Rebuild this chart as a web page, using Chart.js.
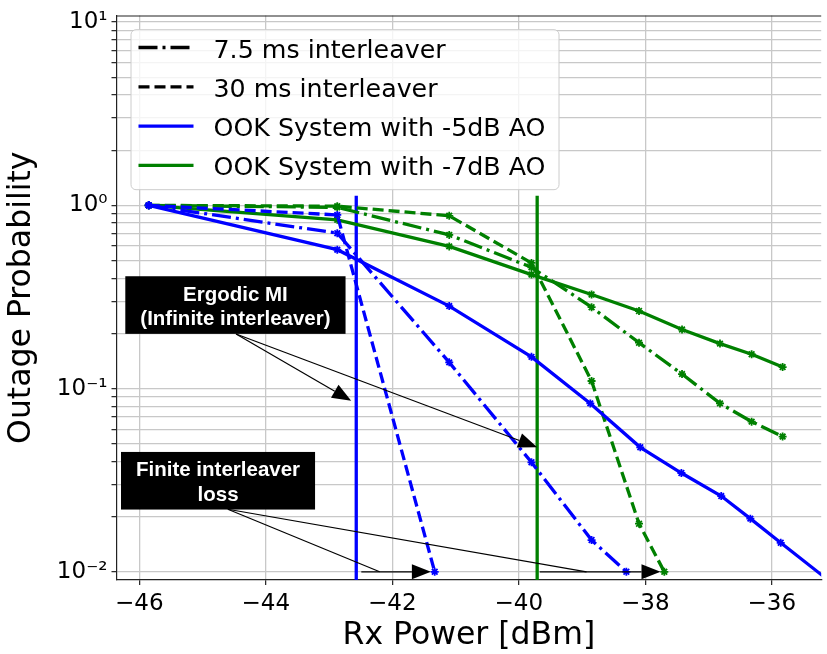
<!DOCTYPE html>
<html>
<head>
<meta charset="utf-8">
<script src="https://cdn.jsdelivr.net/npm/chart.js@4"></script>
<style>
  html, body { margin: 0; padding: 0; background: #fff; }
</style>
</head>
<body>
<canvas id="myChart" width="827" height="654"></canvas>
<script>
// ---- data ----
const rxPower = [-45.85, -42.87, -41.1, -39.8, -38.85, -38.1, -37.42, -36.82, -36.32, -35.83];

// OOK -5dB AO (blue)
const blueSolidX   = [-45.85, -42.87, -41.1, -39.8, -38.87, -38.08, -37.43, -36.8, -36.34, -35.86, -34.9];
const blueSolidY   = [1.0, 0.573, 0.282, 0.149, 0.083, 0.0478, 0.0346, 0.0259, 0.0195, 0.0144, 0.0079];
const blueDashDotX = [-45.85, -42.87, -41.1, -39.8, -38.85, -38.3];
const blueDashDotY = [1.0, 0.705, 0.139, 0.0396, 0.0149, 0.01];
const blueDashedX  = [-45.85, -42.87, -41.33];
const blueDashedY  = [1.0, 0.887, 0.01];

// OOK -7dB AO (green)
const greenSolidY   = [1.0, 0.834, 0.597, 0.419, 0.326, 0.265, 0.21, 0.176, 0.154, 0.131];
const greenDashDotY = [1.0, 0.975, 0.69, 0.459, 0.278, 0.178, 0.12, 0.083, 0.066, 0.0547];
const greenDashedX  = [-45.85, -42.87, -41.1, -39.8, -38.85, -38.1, -37.7];
const greenDashedY  = [1.0, 0.99, 0.877, 0.485, 0.11, 0.0183, 0.01];

// ergodic MI (vertical lines)
const ergodicX = [-42.57, -39.71];
const ergodicSpan = [1.13, 0.009];

// axis ticks
const xTicks = [-46, -44, -42, -40, -38, -36];
const yDecades = [0.01, 0.1, 1, 10];
const yMinor = [2, 3, 4, 5, 6, 7, 8, 9];

// legend + annotations
const legendLabels = ['7.5 ms interleaver', '30 ms interleaver', 'OOK System with -5dB AO', 'OOK System with -7dB AO'];
const ergodicText = ['Ergodic MI', '(Infinite interleaver)'];
const ergodicBox = [-44.48, 0.2857];
const ergodicFrom = [-44.47, 0.1986];
const ergodicTips = [[-42.65, 0.0859], [-39.71, 0.0479]];
const finiteText = ['Finite interleaver', 'loss'];
const finiteBox = [-44.755, 0.0314];
const finiteFrom = [-44.6, 0.02194];
const finiteEnds = [[-42.2, 0.01], [-38.93, 0.01]];
const finiteArrows = [[-42.49, -41.39, 0.01], [-39.67, -37.76, 0.01]];

const BLUE = '#0000ff', GREEN = '#008000';
const DASH = [11, 5], DASHDOT = [19, 5, 3, 5];
const FONT = 'DejaVu Sans';

function pts(xs, ys) { return xs.map((x, i) => ({ x: x, y: ys[i] })); }

function curve(xs, ys, color, dash) {
  return {
    data: pts(xs, ys),
    borderColor: color,
    backgroundColor: color,
    borderWidth: 3.3,
    borderDash: dash,
    pointStyle: 'star',
    pointRadius: 4,
    pointBorderWidth: 1.8,
    pointBorderColor: color,
    tension: 0
  };
}

const yTicks = [];
yDecades.forEach(d => { yTicks.push(d); if (d < 10) yMinor.forEach(m => yTicks.push(m * d)); });

const SUP = { '-': '\u207B', '0': '\u2070', '1': '\u00B9', '2': '\u00B2', '3': '\u00B3' };

function arrow(ctx, x1, y1, x2, y2, head) {
  const ang = Math.atan2(y2 - y1, x2 - x1), L = 19, W = 7.5;
  ctx.beginPath();
  ctx.moveTo(x1, y1);
  if (head) ctx.lineTo(x2 - L * Math.cos(ang), y2 - L * Math.sin(ang));
  else ctx.lineTo(x2, y2);
  ctx.stroke();
  if (head) {
    const bx = x2 - L * Math.cos(ang), by = y2 - L * Math.sin(ang);
    ctx.beginPath();
    ctx.moveTo(x2, y2);
    ctx.lineTo(bx + W * Math.sin(ang), by - W * Math.cos(ang));
    ctx.lineTo(bx - W * Math.sin(ang), by + W * Math.cos(ang));
    ctx.closePath();
    ctx.fill();
  }
}

function textBox(ctx, cx, cy, lines) {
  ctx.font = 'bold 20.5px "Liberation Sans"';
  const w = Math.max(...lines.map(t => ctx.measureText(t).width)) + 30;
  ctx.fillStyle = '#000';
  ctx.fillRect(cx - w / 2, cy - 28.8, w, 57.6);
  ctx.fillStyle = '#fff';
  ctx.textAlign = 'center';
  ctx.textBaseline = 'alphabetic';
  ctx.fillText(lines[0], cx, cy - 4.5);
  ctx.fillText(lines[1], cx, cy + 19.8);
}

const overlay = {
  id: 'overlay',
  afterDatasetsDraw(chart) {
    const { ctx, chartArea: a, scales: { x, y } } = chart;
    const px = v => x.getPixelForValue(v), py = v => y.getPixelForValue(v);
    ctx.save();

    // top spine
    ctx.strokeStyle = '#222';
    ctx.lineWidth = 1.2;
    ctx.beginPath(); ctx.moveTo(a.left, a.top + 0.5); ctx.lineTo(a.right, a.top + 0.5); ctx.stroke();

    // annotation arrows
    ctx.strokeStyle = '#000';
    ctx.fillStyle = '#000';
    ctx.lineWidth = 1.2;
    ergodicTips.forEach(t => arrow(ctx, px(ergodicFrom[0]), py(ergodicFrom[1]), px(t[0]), py(t[1]), true));
    finiteEnds.forEach(t => arrow(ctx, px(finiteFrom[0]), py(finiteFrom[1]), px(t[0]), py(t[1]), false));
    finiteArrows.forEach(t => arrow(ctx, px(t[0]), py(t[2]), px(t[1]), py(t[2]), true));

    textBox(ctx, px(ergodicBox[0]), py(ergodicBox[1]), ergodicText);
    textBox(ctx, px(finiteBox[0]), py(finiteBox[1]), finiteText);

    // legend
    const lx = a.left + 14, ly = a.top + 13.7, lw = 428, lh = 160;
    ctx.beginPath();
    ctx.roundRect(lx + 0.5, ly + 0.5, lw, lh, 5);
    ctx.fillStyle = 'rgba(255,255,255,0.8)';
    ctx.fill();
    ctx.strokeStyle = '#cccccc';
    ctx.lineWidth = 1;
    ctx.stroke();
    const styles = [['#000', DASHDOT], ['#000', DASH], [BLUE, []], [GREEN, []]];
    ctx.font = '25.3px "' + FONT + '"';
    ctx.textAlign = 'left';
    ctx.textBaseline = 'alphabetic';
    legendLabels.forEach((lab, i) => {
      const yy = ly + 18.3 + i * 39.3;
      ctx.strokeStyle = styles[i][0];
      ctx.lineWidth = 3.3;
      ctx.setLineDash(styles[i][1]);
      ctx.beginPath(); ctx.moveTo(lx + 8, yy); ctx.lineTo(lx + 63, yy); ctx.stroke();
      ctx.setLineDash([]);
      ctx.fillStyle = '#000';
      ctx.fillText(lab, lx + 83, yy + 10);
    });
    ctx.restore();
  }
};

const datasets = [
  curve(blueSolidX, blueSolidY, BLUE, []),
  curve(blueDashDotX, blueDashDotY, BLUE, DASHDOT),
  curve(blueDashedX, blueDashedY, BLUE, DASH),
  curve(rxPower, greenSolidY, GREEN, []),
  curve(rxPower, greenDashDotY, GREEN, DASHDOT),
  curve(greenDashedX, greenDashedY, GREEN, DASH)
];
[BLUE, GREEN].forEach((c, i) => {
  datasets.push({
    data: pts([ergodicX[i], ergodicX[i]], ergodicSpan),
    borderColor: c,
    borderWidth: 3.3,
    pointRadius: 0
  });
});

const ctx = document.getElementById('myChart');
new Chart(ctx, {
  type: 'line',
  data: { datasets: datasets },
  options: {
    responsive: false,
    animation: false,
    layout: { padding: { top: 11, right: 0, left: 1.5, bottom: 0 } },
    plugins: { legend: { display: false }, tooltip: { enabled: false } },
    scales: {
      x: {
        type: 'linear',
        min: -46.36,
        max: -35.22,
        afterBuildTicks: s => { s.ticks = xTicks.map(v => ({ value: v })); },
        afterFit: s => { s.height = 74; },
        ticks: {
          font: { family: FONT, size: 23 },
          color: '#000',
          padding: 5,
          maxRotation: 0,
          callback: v => (v < 0 ? '\u2212' : '') + Math.abs(v)
        },
        grid: { color: '#c8c8c8', lineWidth: 1.3, tickLength: 5, tickColor: '#222', tickWidth: 1.2 },
        border: { color: '#222', width: 1.2 },
        title: {
          display: true, text: 'Rx Power [dBm]', color: '#000',
          font: { family: FONT, size: 31.5, lineHeight: 1 },
          padding: { top: 0, bottom: 2.6 }
        }
      },
      y: {
        type: 'logarithmic',
        min: 0.00902,
        max: 10.87,
        afterBuildTicks: s => { s.ticks = yTicks.map(v => ({ value: v })); },
        afterFit: s => { s.width = 115; },
        ticks: {
          font: { family: FONT, size: 23, lineHeight: 1 },
          color: '#000',
          padding: 4,
          autoSkip: false,
          callback: v => {
            const e = Math.log10(v);
            if (Math.abs(e - Math.round(e)) > 1e-6) return '';
            return '10' + String(Math.round(e)).split('').map(c => SUP[c]).join('');
          }
        },
        grid: { color: '#c8c8c8', lineWidth: 1.3, tickLength: 5, tickColor: '#222', tickWidth: 1.2 },
        border: { color: '#222', width: 1.2 },
        title: {
          display: true, text: 'Outage Probability', color: '#000',
          font: { family: FONT, size: 31.5, lineHeight: 1 },
          padding: { top: 4.7, bottom: 0 }
        }
      }
    }
  },
  plugins: [overlay]
});
</script>
</body>
</html>
